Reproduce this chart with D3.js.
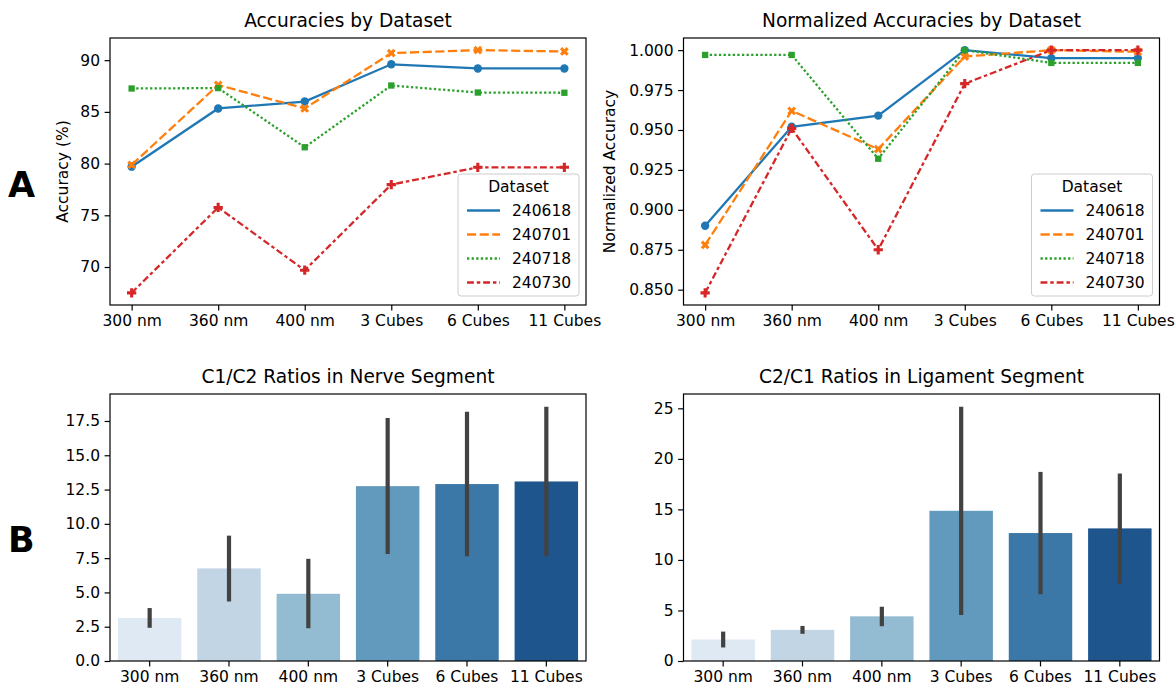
<!DOCTYPE html>
<html lang="en">
<head>
<meta charset="UTF-8">
<title>Accuracies and ratios</title>
<script src="https://d3js.org/d3.v7.min.js"></script>
<style>
  body { margin: 0; background: #fff; }
  text { font-family: "DejaVu Sans", sans-serif; fill: #000; }
</style>
</head>
<body>
<svg id="fig" width="1175" height="685"></svg>
<script>
// ---- data ----
const categories = ["300 nm", "360 nm", "400 nm", "3 Cubes", "6 Cubes", "11 Cubes"];
const datasets = ["240618", "240701", "240718", "240730"];

// accuracy (%) per dataset
const acc240618 = [79.7, 85.33, 86.0, 89.6, 89.2, 89.2];
const acc240701 = [79.87, 87.6, 85.33, 90.68, 90.97, 90.84];
const acc240718 = [87.26, 87.3, 81.58, 87.55, 86.87, 86.85];
const acc240730 = [67.5, 75.76, 69.69, 77.97, 79.64, 79.64];

// normalized accuracy per dataset
const norm240618 = [0.890, 0.952, 0.959, 1.000, 0.995, 0.995];
const norm240701 = [0.878, 0.962, 0.938, 0.996, 1.000, 0.999];
const norm240718 = [0.997, 0.997, 0.932, 1.000, 0.992, 0.992];
const norm240730 = [0.848, 0.951, 0.875, 0.979, 1.000, 1.000];

// C1/C2 nerve segment: mean and error bar ends
const nerveMean = [3.14, 6.75, 4.9, 12.75, 12.9, 13.09];
const nerveLow  = [2.42, 4.34, 2.39, 7.81, 7.64, 7.64];
const nerveHigh = [3.86, 9.14, 7.45, 17.72, 18.18, 18.54];

// C2/C1 ligament segment
const ligMean = [2.13, 3.08, 4.42, 14.86, 12.66, 13.12];
const ligLow  = [1.34, 2.69, 3.44, 4.55, 6.61, 7.65];
const ligHigh = [2.91, 3.47, 5.37, 25.16, 18.71, 18.55];

const accTicks = [70, 75, 80, 85, 90];
const normTicks = [0.85, 0.875, 0.9, 0.925, 0.95, 0.975, 1.0];
const nerveTicks = [0, 2.5, 5, 7.5, 10, 12.5, 15, 17.5];
const ligTicks = [0, 5, 10, 15, 20, 25];

// ---- styles ----
const lineColors = ["#1f77b4", "#ff7f0e", "#2ca02c", "#d62728"];
const lw = 2.3;
const dashes = ["", "9.2,3.45", "2.3,2.3", "6.9,2.9,3.45,2.9"];
const markerTypes = [d3.symbolCircle, d3.symbolCross, d3.symbolSquare, d3.symbolCross];
const markerSizes = [55, 48, 40, 48];
const markerRot = [0, 45, 0, 0];
const barColors = ["#dee9f3", "#c1d5e5", "#93bbd2", "#629abd", "#3c78a7", "#1e558d"];
const fs = "15.5px";

const svg = d3.select("#fig");
const W = 476, H = 267;
const panels = {
  tl: { x: 110, y: 38 },
  tr: { x: 683.5, y: 38 },
  bl: { x: 110, y: 394 },
  br: { x: 683.5, y: 394 }
};

function padDomain(lo, hi) {
  const m = (hi - lo) * 0.05;
  return [lo - m, hi + m];
}

function frame(g, title) {
  g.append("rect").attr("width", W).attr("height", H)
    .attr("fill", "none").attr("stroke", "#000").attr("stroke-width", 1.2);
  g.append("text").attr("x", W / 2).attr("y", -11)
    .attr("text-anchor", "middle").style("font-size", "18.6px").text(title);
}

function styleAxis(sel) {
  sel.select(".domain").remove();
  sel.selectAll(".tick line").attr("stroke", "#000").attr("stroke-width", 1.2);
  sel.selectAll(".tick text").style("font-size", fs).attr("fill", "#000");
}

function linePanel(p, title, series, ticks, fmt, ylabel, labX) {
  const g = svg.append("g").attr("transform", `translate(${p.x},${p.y})`);
  const all = series.flat();
  const x = d3.scalePoint().domain(categories).range([0, W]).padding(0.25);
  const y = d3.scaleLinear().domain(padDomain(d3.min(all), d3.max(all))).range([H, 0]);

  g.append("g").attr("transform", `translate(0,${H})`)
    .call(d3.axisBottom(x).tickSizeOuter(0).tickSize(5.4).tickPadding(4.6))
    .call(styleAxis);
  g.append("g")
    .call(d3.axisLeft(y).tickValues(ticks).tickFormat(d3.format(fmt)).tickSize(5.4).tickPadding(4.6))
    .call(styleAxis);

  const line = d3.line().x((d, i) => x(categories[i])).y(d => y(d));
  series.forEach((vals, k) => {
    g.append("path").datum(vals).attr("d", line)
      .attr("fill", "none").attr("stroke", lineColors[k]).attr("stroke-width", lw)
      .attr("stroke-dasharray", dashes[k]);
  });
  series.forEach((vals, k) => {
    g.selectAll(null).data(vals).enter().append("path")
      .attr("d", d3.symbol().type(markerTypes[k]).size(markerSizes[k]))
      .attr("transform", (d, i) => `translate(${x(categories[i])},${y(d)}) rotate(${markerRot[k]})`)
      .attr("fill", lineColors[k]);
  });

  frame(g, title);

  // y label
  g.append("text").attr("transform", `translate(${labX},${H / 2}) rotate(-90)`)
    .attr("text-anchor", "middle").style("font-size", fs).text(ylabel);

  // legend
  const lgW = 121, lgH = 122;
  const lg = g.append("g").attr("transform", `translate(${W - 7 - lgW},${H - 9 - lgH})`);
  lg.append("rect").attr("width", lgW).attr("height", lgH).attr("rx", 3)
    .attr("fill", "#fff").attr("fill-opacity", 0.8).attr("stroke", "#cccccc").attr("stroke-width", 1);
  lg.append("text").attr("x", lgW / 2).attr("y", 12.7).attr("dy", "0.35em")
    .attr("text-anchor", "middle").style("font-size", fs).text("Dataset");
  datasets.forEach((name, k) => {
    const cy = 36.5 + k * 24;
    lg.append("line").attr("x1", 9).attr("x2", 42).attr("y1", cy).attr("y2", cy)
      .attr("stroke", lineColors[k]).attr("stroke-width", lw).attr("stroke-dasharray", dashes[k]);
    lg.append("text").attr("x", 54).attr("y", cy).attr("dy", "0.35em")
      .style("font-size", fs).text(name);
  });
}

function barPanel(p, title, mean, low, high, ticks, fmt) {
  const g = svg.append("g").attr("transform", `translate(${p.x},${p.y})`);
  const x = d3.scaleBand().domain(categories).range([0, W]).paddingInner(0.2).paddingOuter(0.1);
  const y = d3.scaleLinear().domain([0, d3.max(high) * 1.05]).range([H, 0]);

  g.selectAll(null).data(mean).enter().append("rect")
    .attr("x", (d, i) => x(categories[i]))
    .attr("y", d => y(d))
    .attr("width", x.bandwidth())
    .attr("height", d => H - y(d))
    .attr("fill", (d, i) => barColors[i]);

  g.selectAll(null).data(categories).enter().append("line")
    .attr("x1", c => x(c) + x.bandwidth() / 2)
    .attr("x2", c => x(c) + x.bandwidth() / 2)
    .attr("y1", (c, i) => y(low[i]))
    .attr("y2", (c, i) => y(high[i]))
    .attr("stroke", "#424242").attr("stroke-width", 4.2);

  g.append("g").attr("transform", `translate(0,${H})`)
    .call(d3.axisBottom(x).tickSizeOuter(0).tickSize(5.4).tickPadding(4.6))
    .call(styleAxis);
  g.append("g")
    .call(d3.axisLeft(y).tickValues(ticks).tickFormat(d3.format(fmt)).tickSize(5.4).tickPadding(4.6))
    .call(styleAxis);

  frame(g, title);
}

linePanel(panels.tl, "Accuracies by Dataset",
  [acc240618, acc240701, acc240718, acc240730], accTicks, "d", "Accuracy (%)", -42.5);
linePanel(panels.tr, "Normalized Accuracies by Dataset",
  [norm240618, norm240701, norm240718, norm240730], normTicks, ".3f", "Normalized Accuracy", -69);
barPanel(panels.bl, "C1/C2 Ratios in Nerve Segment", nerveMean, nerveLow, nerveHigh, nerveTicks, ".1f");
barPanel(panels.br, "C2/C1 Ratios in Ligament Segment", ligMean, ligLow, ligHigh, ligTicks, "d");

// panel letters
svg.append("text").attr("x", 8).attr("y", 197)
  .style("font-size", "35px").style("font-weight", "bold").text("A");
svg.append("text").attr("x", 8).attr("y", 552)
  .style("font-size", "35px").style("font-weight", "bold").text("B");
</script>
</body>
</html>
